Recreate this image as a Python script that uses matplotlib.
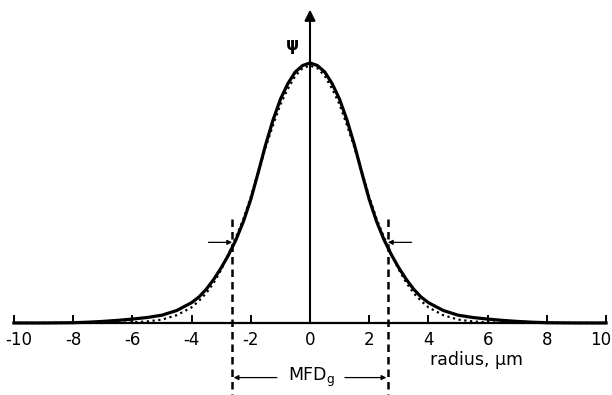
import numpy as np
import matplotlib
matplotlib.use("Agg")
import matplotlib.pyplot as plt

# radial positions (um), one side only; profile is mirrored about r = 0
r_half = [0.0, 0.25, 0.5, 0.75, 1.0, 1.25, 1.5, 1.75, 2.0, 2.25, 2.5, 2.75,
          3.0, 3.25, 3.5, 3.75, 4.0, 4.5, 5.0, 5.5, 6.0, 6.5, 7.0, 7.5, 8.0,
          9.0, 10.0]
# mode field (solid)
psi_mode = [1.0, 0.99, 0.965, 0.92, 0.86, 0.78, 0.685, 0.578, 0.475, 0.39,
            0.32, 0.262, 0.212, 0.168, 0.13, 0.10, 0.078, 0.048, 0.03, 0.021,
            0.015, 0.010, 0.006, 0.003, 0.001, 0.0, 0.0]
# gaussian fit (dotted)
psi_gauss = [0.99, 0.98, 0.95, 0.90, 0.84, 0.76, 0.675, 0.58, 0.485, 0.40,
             0.33, 0.265, 0.205, 0.155, 0.115, 0.085, 0.06, 0.03, 0.013,
             0.006, 0.002, 0.001, 0.0, 0.0, 0.0, 0.0, 0.0]
xticks = [-10, -8, -6, -4, -2, 0, 2, 4, 6, 8, 10]
half_mfd = 2.63
arrow_level = 0.31

r = np.concatenate([-np.array(r_half[::-1]), np.array(r_half[1:])])
mode = np.concatenate([np.array(psi_mode[::-1]), np.array(psi_mode[1:])])
gauss = np.concatenate([np.array(psi_gauss[::-1]), np.array(psi_gauss[1:])])

fig = plt.figure(figsize=(6.12, 3.95), dpi=100)
ax = fig.add_axes([0, 0, 1, 1])
ax.set_xlim(-10.47, 10.2)
ax.set_ylim(-0.277, 1.242)
ax.axis("off")

# horizontal axis with ticks
ax.plot([-10, 10], [0, 0], color="black", lw=1.6, solid_capstyle="butt")
for t in xticks:
    ax.plot([t, t], [0, 0.028], color="black", lw=1.4)
    xt = t
    if t == -10:
        xt = -9.85
    elif t == 10:
        xt = 9.82
    ax.text(xt, -0.065, str(t), ha="center", va="center", fontsize=12)
ax.text(5.64, -0.142, "radius, \u03bcm", ha="center", va="center", fontsize=12.5)

# vertical axis with arrow head
ax.annotate("", xy=(0, 1.205), xytext=(0, 0),
            arrowprops=dict(arrowstyle="-|>", lw=1.5, color="black",
                            mutation_scale=16, shrinkA=0, shrinkB=0))
ax.text(-0.6, 1.07, "\u03c8", ha="center", va="center", fontsize=12,
        fontweight="bold")

# field profiles
ax.plot(r, mode, color="black", lw=2.3, solid_joinstyle="round")
ax.plot(r, gauss, color="black", lw=1.6, linestyle=(0, (1, 1.6)))

# mode field diameter markers
for s in (-1, 1):
    ax.plot([s * half_mfd, s * half_mfd], [0.40, -0.3], color="black",
            lw=1.8, linestyle=(0, (3, 2)))
    ax.annotate("", xy=(s * half_mfd, arrow_level),
                xytext=(s * 3.43, arrow_level),
                arrowprops=dict(arrowstyle="-|>", lw=0.9, color="black",
                                mutation_scale=7, shrinkA=0, shrinkB=0))

ax.text(0.07, -0.21, "MFD$_\\mathregular{g}$", ha="center", va="center",
        fontsize=12.5)
ax.annotate("", xy=(-half_mfd + 0.05, -0.21), xytext=(-1.12, -0.21),
            arrowprops=dict(arrowstyle="-|>", lw=0.9, color="black",
                            mutation_scale=7, shrinkA=0, shrinkB=0))
ax.annotate("", xy=(half_mfd - 0.05, -0.21), xytext=(1.18, -0.21),
            arrowprops=dict(arrowstyle="-|>", lw=0.9, color="black",
                            mutation_scale=7, shrinkA=0, shrinkB=0))

fig.savefig("out.png", dpi=100)
